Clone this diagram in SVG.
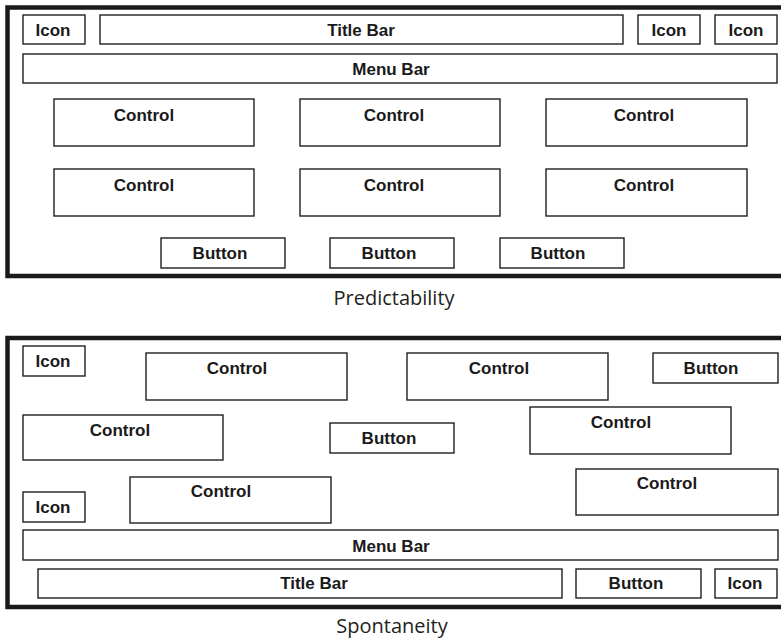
<svg xmlns="http://www.w3.org/2000/svg" width="781" height="640" viewBox="0 0 781 640">
<style>
.frame{fill:none;stroke:#1a1a1a;stroke-width:4.5}
.box{fill:#fff;stroke:#1f1f1f;stroke-width:1.4}
.lbl{font-family:"Liberation Sans",Arial,sans-serif;font-weight:bold;font-size:17px;fill:#1a1a1a;text-anchor:middle}
.cap{font-family:"Open Sans","Noto Sans",sans-serif;font-size:20px;fill:#231f20;text-anchor:middle}
</style>
<rect width="781" height="640" fill="#fff"/>
<g id="predictability">
<rect class="frame" x="7.5" y="7.5" width="800" height="268.5"/>
<g id="p-icon1"><rect class="box" x="23" y="15" width="62" height="29"/><text class="lbl" x="53" y="36">Icon</text></g>
<g id="p-title"><rect class="box" x="100" y="15" width="523" height="29"/><text class="lbl" x="361" y="36">Title Bar</text></g>
<g id="p-icon2"><rect class="box" x="638" y="15" width="62" height="29"/><text class="lbl" x="669" y="36">Icon</text></g>
<g id="p-icon3"><rect class="box" x="715" y="15" width="62" height="29"/><text class="lbl" x="746" y="36">Icon</text></g>
<g id="p-menu"><rect class="box" x="23" y="54" width="754" height="29"/><text class="lbl" x="391" y="75">Menu Bar</text></g>
<g id="p-control1"><rect class="box" x="54" y="99" width="200" height="47"/><text class="lbl" x="144" y="121">Control</text></g>
<g id="p-control2"><rect class="box" x="300" y="99" width="200" height="47"/><text class="lbl" x="394" y="121">Control</text></g>
<g id="p-control3"><rect class="box" x="546" y="99" width="201" height="47"/><text class="lbl" x="644" y="121">Control</text></g>
<g id="p-control4"><rect class="box" x="54" y="169" width="200" height="47"/><text class="lbl" x="144" y="191">Control</text></g>
<g id="p-control5"><rect class="box" x="300" y="169" width="200" height="47"/><text class="lbl" x="394" y="191">Control</text></g>
<g id="p-control6"><rect class="box" x="546" y="169" width="201" height="47"/><text class="lbl" x="644" y="191">Control</text></g>
<g id="p-button1"><rect class="box" x="161" y="238" width="124" height="30"/><text class="lbl" x="220" y="259">Button</text></g>
<g id="p-button2"><rect class="box" x="330" y="238" width="124" height="30"/><text class="lbl" x="389" y="259">Button</text></g>
<g id="p-button3"><rect class="box" x="500" y="238" width="124" height="30"/><text class="lbl" x="558" y="259">Button</text></g>
<text class="cap" x="394" y="305">Predictability</text>
</g>
<g id="spontaneity">
<rect class="frame" x="7.5" y="338" width="800" height="269"/>
<g id="s-icon1"><rect class="box" x="23" y="346" width="62" height="30"/><text class="lbl" x="53" y="367">Icon</text></g>
<g id="s-control1"><rect class="box" x="146" y="353" width="201" height="47"/><text class="lbl" x="237" y="374">Control</text></g>
<g id="s-control2"><rect class="box" x="407" y="353" width="201" height="47"/><text class="lbl" x="499" y="374">Control</text></g>
<g id="s-button1"><rect class="box" x="653" y="353" width="125" height="30"/><text class="lbl" x="711" y="374">Button</text></g>
<g id="s-control3"><rect class="box" x="23" y="415" width="200" height="45"/><text class="lbl" x="120" y="436">Control</text></g>
<g id="s-button2"><rect class="box" x="330" y="423" width="124" height="30"/><text class="lbl" x="389" y="444">Button</text></g>
<g id="s-control4"><rect class="box" x="530" y="407" width="201" height="47"/><text class="lbl" x="621" y="428">Control</text></g>
<g id="s-control5"><rect class="box" x="576" y="469" width="202" height="46"/><text class="lbl" x="667" y="489">Control</text></g>
<g id="s-icon2"><rect class="box" x="23" y="492" width="62" height="30"/><text class="lbl" x="53" y="513">Icon</text></g>
<g id="s-control6"><rect class="box" x="130" y="477" width="201" height="46"/><text class="lbl" x="221" y="497">Control</text></g>
<g id="s-menu"><rect class="box" x="23" y="530" width="755" height="30"/><text class="lbl" x="391" y="552">Menu Bar</text></g>
<g id="s-title"><rect class="box" x="38" y="569" width="524" height="29"/><text class="lbl" x="314" y="589">Title Bar</text></g>
<g id="s-button3"><rect class="box" x="576" y="569" width="125" height="29"/><text class="lbl" x="636" y="589">Button</text></g>
<g id="s-icon3"><rect class="box" x="715" y="569" width="62" height="29"/><text class="lbl" x="745" y="589">Icon</text></g>
<text class="cap" x="392" y="633">Spontaneity</text>
</g>
<g id="connectors"/>
</svg>
